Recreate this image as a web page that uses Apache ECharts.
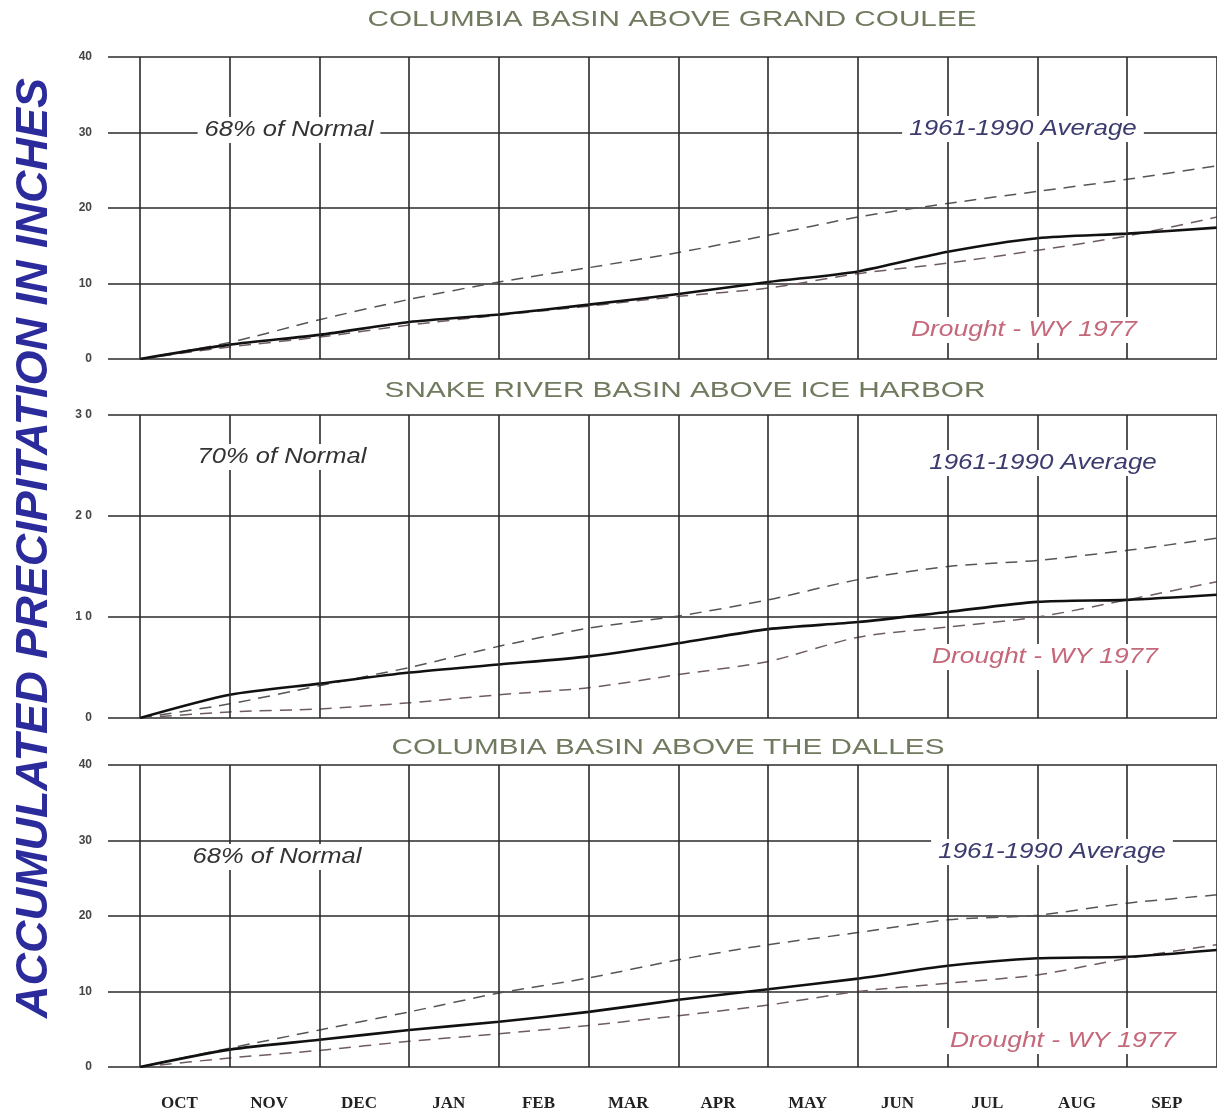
<!DOCTYPE html>
<html>
<head>
<meta charset="utf-8">
<script src="https://cdn.jsdelivr.net/npm/echarts@6/dist/echarts.min.js"></script>
<style>
html,body{margin:0;padding:0;background:#fff;}
#chart{width:1217px;height:1118px;}
</style>
</head>
<body>
<div id="chart"></div>
<script>
// ---- data ----
var months = ['OCT','NOV','DEC','JAN','FEB','MAR','APR','MAY','JUN','JUL','AUG','SEP'];
var monthEnds = [0,1,2,3,4,5,6,7,8,9,10,11,12];
var panelTitles = ['COLUMBIA BASIN ABOVE GRAND COULEE','SNAKE RIVER BASIN ABOVE ICE HARBOR','COLUMBIA BASIN ABOVE THE DALLES'];
var pctNormal = ['68% of Normal','70% of Normal','68% of Normal'];
var yMax = [40, 30, 40];

// Columbia above Grand Coulee
var gcAverage = [0, 2.2, 5.2, 7.9, 10.2, 12.1, 14.1, 16.4, 18.8, 20.6, 22.2, 23.8, 25.6];
var gcCurrent = [0, 1.9, 3.2, 4.9, 5.9, 7.2, 8.6, 10.2, 11.6, 14.2, 16.0, 16.6, 17.4];
var gcDrought = [0, 1.6, 2.9, 4.5, 5.8, 7.0, 8.3, 9.4, 11.3, 12.7, 14.4, 16.3, 18.8];
// Snake River above Ice Harbor
var srAverage = [0, 1.4, 3.2, 5.0, 7.1, 8.9, 10.1, 11.7, 13.7, 15.0, 15.6, 16.6, 17.8];
var srCurrent = [0, 2.3, 3.4, 4.5, 5.3, 6.1, 7.4, 8.8, 9.5, 10.5, 11.5, 11.7, 12.2];
var srDrought = [0, 0.6, 0.9, 1.5, 2.3, 3.0, 4.3, 5.6, 8.0, 9.0, 10.0, 11.7, 13.5];
// Columbia above The Dalles
var tdAverage = [0, 2.5, 4.9, 7.3, 9.8, 11.8, 14.2, 16.2, 17.8, 19.5, 20.1, 21.7, 22.8];
var tdCurrent = [0, 2.3, 3.6, 4.9, 6.0, 7.3, 8.9, 10.3, 11.7, 13.4, 14.4, 14.6, 15.5];
var tdDrought = [0, 1.2, 2.2, 3.4, 4.4, 5.5, 6.8, 8.2, 10.0, 11.1, 12.2, 14.4, 16.2];

var panels = [
  {avg: gcAverage, cur: gcCurrent, dr: gcDrought},
  {avg: srAverage, cur: srCurrent, dr: srDrought},
  {avg: tdAverage, cur: tdCurrent, dr: tdDrought}
];

// ---- layout ----
var gridTops = [57, 415, 765];
var gridHeights = [302, 303, 302];
var xMin = -0.3565;
var gridLineColor = '#2a2a2a';

function pairs(arr){ return arr.map(function(v,i){ return [monthEnds[i], v]; }); }

var grids = [], xAxes = [], yAxes = [], series = [];
panels.forEach(function(p, k){
  grids.push({left: 108, right: 0, top: gridTops[k], height: gridHeights[k]});
  var isLast = k === 2;
  xAxes.push({
    type: 'value', gridIndex: k, min: xMin, max: 12,
    axisLine: {show: false}, axisTick: {show: false}, splitLine: {show: false},
    axisLabel: {
      show: isLast,
      customValues: months.map(function(m,i){ return i + 0.44; }),
      formatter: function(v){ return months[Math.round(v - 0.44)] || ''; },
      margin: 28,
      fontFamily: 'Liberation Serif', fontWeight: 'bold', fontSize: 17, color: '#222'
    }
  });
  yAxes.push({
    type: 'value', gridIndex: k, min: 0, max: yMax[k], interval: 10,
    axisLine: {show: false}, axisTick: {show: false},
    splitLine: {show: true, lineStyle: {color: gridLineColor, width: 1.6}},
    axisLabel: {
      margin: 16, fontFamily: 'Liberation Sans', fontSize: 12, fontWeight: 'bold', color: '#444',
      formatter: function(v){ return k === 1 ? String(v).split('').join(' ') : String(v); }
    }
  });
  series.push({
    type: 'line', xAxisIndex: k, yAxisIndex: k, data: pairs(p.avg),
    symbol: 'none', smooth: 0.25, z: 3,
    lineStyle: {color: '#555', width: 1.5, type: [12, 8]},
    markLine: {
      silent: true, symbol: 'none', label: {show: false}, animation: false,
      lineStyle: {color: gridLineColor, width: 1.6, type: 'solid'},
      data: monthEnds.map(function(m){ return {xAxis: m}; })
    }
  });
  series.push({
    type: 'line', xAxisIndex: k, yAxisIndex: k, data: pairs(p.dr),
    symbol: 'none', smooth: 0.25, z: 3,
    lineStyle: {color: '#6e5c62', width: 1.5, type: [12, 8]}
  });
  series.push({
    type: 'line', xAxisIndex: k, yAxisIndex: k, data: pairs(p.cur),
    symbol: 'none', smooth: 0.25, z: 4,
    lineStyle: {color: '#111', width: 2.6}
  });
});

// ---- annotation text ----
var titlePos = [[672, 20], [685, 391], [668, 748]];
var pctPos = [[289, 130], [282, 457], [277, 857]];
var avgPos = [[1023, 129], [1043, 463], [1052, 852]];
var drPos = [[1024, 330], [1045, 657], [1063, 1041]];

function label(text, pos, font, color, sx, bg){
  return {
    type: 'text', x: pos[0], y: pos[1], z: 100, scaleX: sx || 1,
    style: {text: text, font: font, fill: color, align: 'center', verticalAlign: 'middle',
      backgroundColor: bg ? '#fff' : null, padding: bg ? [2, 6] : 0}
  };
}
var graphics = [];
for (var k = 0; k < 3; k++){
  graphics.push(label(panelTitles[k], titlePos[k], '22px "Liberation Sans"', '#6f7a5e', 1.35, true));
  graphics.push(label(pctNormal[k], pctPos[k], 'italic 22px "Liberation Sans"', '#333', 1.16, true));
  graphics.push(label('1961-1990 Average', avgPos[k], 'italic 22px "Liberation Sans"', '#3b3b6e', 1.18, true));
  graphics.push(label('Drought - WY 1977', drPos[k], 'italic 22px "Liberation Sans"', '#c4687a', 1.2, true));
}
graphics.push({
  type: 'text', x: 35, y: 548, z: 100, rotation: Math.PI / 2,
  style: {text: 'ACCUMULATED PRECIPITATION IN INCHES', font: 'italic bold 45px "Liberation Sans"',
    fill: '#2b2b9b', align: 'center', verticalAlign: 'middle'}
});

var chart = echarts.init(document.getElementById('chart'));
chart.setOption({
  animation: false,
  backgroundColor: '#fff',
  grid: grids, xAxis: xAxes, yAxis: yAxes, series: series,
  graphic: graphics
});
</script>
</body>
</html>
